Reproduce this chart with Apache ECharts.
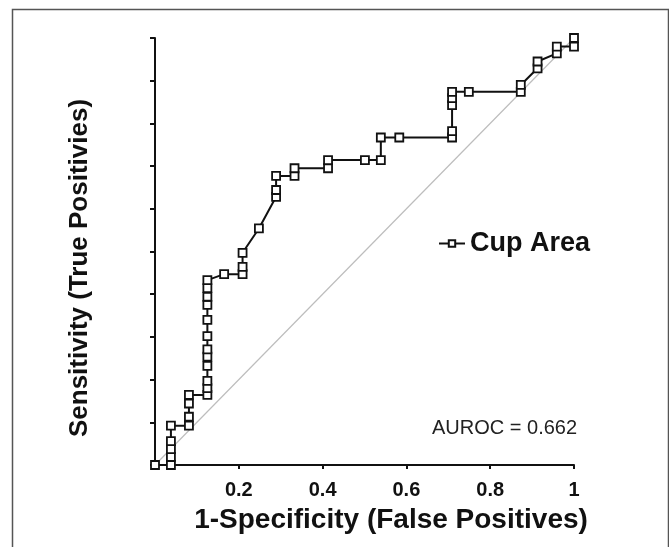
<!DOCTYPE html>
<html>
<head>
<meta charset="utf-8">
<script src="https://cdn.jsdelivr.net/npm/echarts@6/dist/echarts.min.js"></script>
<style>
  html, body { margin: 0; padding: 0; background: #fff; }
  #main { width: 669px; height: 547px; }
</style>
</head>
<body>
<div id="main"></div>
<script>
// ROC curve points
var fpr = [0,
  0.038, 0.038, 0.038, 0.038, 0.038,
  0.081, 0.081, 0.081, 0.081,
  0.125, 0.125, 0.125, 0.125, 0.125, 0.125, 0.125, 0.125, 0.125, 0.125, 0.125, 0.125,
  0.165,
  0.209, 0.209, 0.209,
  0.248,
  0.289, 0.289, 0.289,
  0.333, 0.333,
  0.413, 0.413,
  0.501,
  0.539, 0.539,
  0.583,
  0.709, 0.709, 0.709, 0.709, 0.709,
  0.749,
  0.873, 0.873,
  0.913, 0.913,
  0.959, 0.959,
  1, 1];
var tpr = [0,
  0, 0.019, 0.037, 0.056, 0.092,
  0.092, 0.113, 0.144, 0.164,
  0.164, 0.180, 0.197, 0.232, 0.254, 0.271, 0.302, 0.340, 0.375, 0.394, 0.414, 0.433,
  0.447,
  0.447, 0.464, 0.497,
  0.554,
  0.628, 0.644, 0.677,
  0.677, 0.695,
  0.695, 0.714,
  0.714,
  0.714, 0.767,
  0.767,
  0.767, 0.782, 0.843, 0.859, 0.874,
  0.874,
  0.874, 0.890,
  0.929, 0.945,
  0.964, 0.980,
  0.980, 1];
var diagX = [0, 1];
var diagY = [0, 1];
var xTicks = [0.2, 0.4, 0.6, 0.8, 1];
var seriesName = 'Cup Area';
var aurocText = 'AUROC = 0.662';

var curve = fpr.map(function (x, i) { return [x, tpr[i]]; });
var diag = diagX.map(function (x, i) { return [x, diagY[i]]; });

var myChart = echarts.init(document.getElementById('main'));
var font = '"Liberation Sans", Arial, sans-serif';

var option = {
  animation: false,
  backgroundColor: '#fff',
  textStyle: { fontFamily: font },
  grid: { left: 155, right: 95, top: 38, bottom: 82 },
  legend: {
    data: [seriesName],
    left: 433,
    top: 225,
    itemWidth: 26,
    itemHeight: 8,
    itemGap: 5,
    textStyle: { fontSize: 27, fontWeight: 'bold', color: '#111', fontFamily: font }
  },
  xAxis: {
    type: 'value',
    min: 0,
    max: 1,
    interval: 0.2,
    name: '1-Specificity (False Positives)',
    nameLocation: 'middle',
    nameGap: 41,
    nameTextStyle: { fontSize: 28, fontWeight: 'bold', color: '#111', fontFamily: font, padding: [0, 0, 0, 53] },
    axisLine: { lineStyle: { color: '#111', width: 2 } },
    axisTick: { show: true, length: 4, lineStyle: { color: '#111', width: 2 } },
    axisLabel: {
      margin: 15,
      fontSize: 20,
      fontWeight: 'bold',
      color: '#111',
      formatter: function (v) { return xTicks.indexOf(v) >= 0 || Math.abs(v - 1) < 1e-9 ? String(+v.toFixed(1)) : ''; }
    },
    splitLine: { show: false }
  },
  yAxis: {
    type: 'value',
    min: 0,
    max: 1,
    interval: 0.1,
    name: 'Sensitivity (True Positivies)',
    nameLocation: 'middle',
    nameGap: 62,
    nameTextStyle: { fontSize: 26, fontWeight: 'bold', color: '#111', fontFamily: font, padding: [0, 33, 0, 0] },
    axisLine: { lineStyle: { color: '#111', width: 2 } },
    axisTick: { show: true, length: 5, lineStyle: { color: '#111', width: 2 } },
    axisLabel: { show: false },
    splitLine: { show: false }
  },
  graphic: [
    {
      type: 'rect',
      left: 10,
      top: 7,
      shape: { width: 656, height: 560 },
      style: { fill: 'none', stroke: '#555', lineWidth: 1.5 },
      silent: true
    },
    {
      type: 'text',
      left: 432,
      top: 418,
      style: { text: aurocText, fontSize: 20, fill: '#222', fontFamily: font }
    }
  ],
  series: [
    {
      name: 'diag',
      type: 'line',
      data: diag,
      symbol: 'none',
      silent: true,
      lineStyle: { color: '#bdbdbd', width: 1.2 },
      z: 1
    },
    {
      name: seriesName,
      type: 'line',
      data: curve,
      symbol: 'rect',
      symbolSize: 8,
      lineStyle: { color: '#111', width: 2 },
      itemStyle: { color: '#fff', borderColor: '#111', borderWidth: 1.8 },
      z: 3
    }
  ]
};
myChart.setOption(option);
</script>
</body>
</html>
